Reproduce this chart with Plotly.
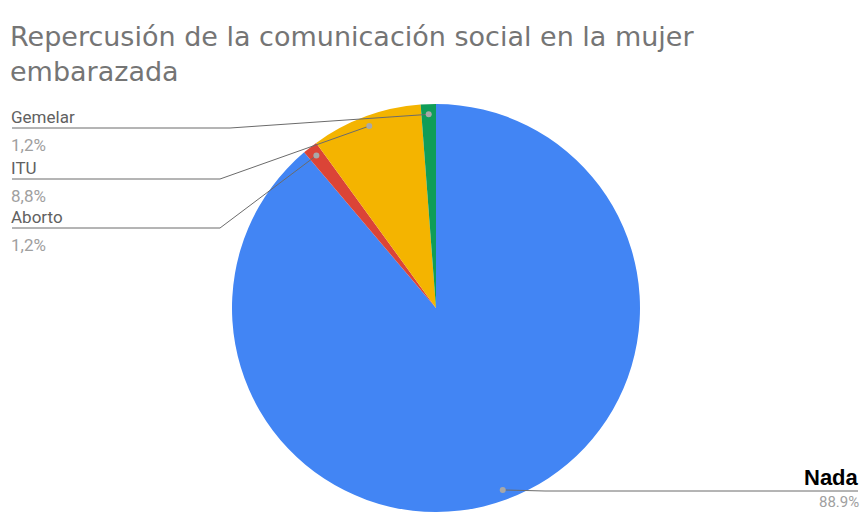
import math
import plotly.graph_objects as go

# ---- data ----
labels = ["Nada", "Aborto", "ITU", "Gemelar"]
values = [88.9, 1.2, 8.8, 1.2]
pct_text = ["88.9%", "1,2%", "8,8%", "1,2%"]
colors = ["#4285F4", "#DB4437", "#F4B400", "#0F9D58"]
title_text = "Repercusión de la comunicación social en la mujer<br>embarazada"

W, H = 861, 512

# pie placement in pixels (layout)
PX0, PX1, PY_TOP, PY_BOT = 232, 640, 104, 512

def px(x):
    return x / W

def py(y):
    return 1 - y / H

fig = go.Figure()
fig.add_trace(go.Pie(
    labels=labels, values=values, sort=False, direction="clockwise", rotation=0,
    marker=dict(colors=colors, line=dict(width=0)),
    textinfo="none", hoverinfo="label+percent", showlegend=False,
    domain=dict(x=[px(PX0), px(PX1)], y=[py(PY_BOT), py(PY_TOP)]),
))

# geometry derived from the pie domain and data
cx = (PX0 + PX1) / 2
cy = (PY_TOP + PY_BOT) / 2
r = min(PX1 - PX0, PY_BOT - PY_TOP) / 2
total = sum(values)
cum = 0
anchors = []
for v in values:
    mid = (cum + v / 2) / total * 2 * math.pi
    cum += v
    anchors.append((cx + 0.95 * r * math.sin(mid), cy - 0.95 * r * math.cos(mid)))

# label layout: (elbow x, line y, end x, side)
label_layout = {
    "Gemelar": (230, 128, 12, "left"),
    "ITU": (220, 179, 12, "left"),
    "Aborto": (220, 228, 12, "left"),
    "Nada": (545, 491, 858, "right"),
}

line_col = "#6b6b6b"
for lab, pct, (ax, ay) in zip(labels, pct_text, anchors):
    ex, ly, endx, side = label_layout[lab]
    fig.add_shape(type="path", xref="paper", yref="paper",
                  path=f"M {px(ax)} {py(ay)} L {px(ex)} {py(ly)} L {px(endx)} {py(ly)}",
                  line=dict(color=line_col, width=1))
    fig.add_shape(type="circle", xref="paper", yref="paper",
                  x0=px(ax - 3), x1=px(ax + 3), y0=py(ay + 3), y1=py(ay - 3),
                  fillcolor="#a8a8a8", line=dict(width=0))
    if side == "left":
        fig.add_annotation(x=px(endx - 3), y=py(ly - 11), xref="paper", yref="paper",
                           text=lab, showarrow=False, xanchor="left", yanchor="middle",
                           font=dict(family="Roboto", size=17, color="#616161"))
        fig.add_annotation(x=px(endx - 3), y=py(ly + 17), xref="paper", yref="paper",
                           text=pct, showarrow=False, xanchor="left", yanchor="middle",
                           font=dict(family="Roboto", size=17, color="#a0a0a0"))
    else:
        fig.add_annotation(x=px(endx + 3), y=py(ly - 14), xref="paper", yref="paper",
                           text=f"<b>{lab}</b>", showarrow=False, xanchor="right", yanchor="middle",
                           font=dict(family="Liberation Sans", size=22, color="#000000"))
        fig.add_annotation(x=px(endx + 3), y=py(ly + 11), xref="paper", yref="paper",
                           text=pct, showarrow=False, xanchor="right", yanchor="middle",
                           font=dict(family="Roboto", size=15, color="#a0a0a0"))

fig.add_annotation(x=px(8), y=py(19), xref="paper", yref="paper", text=title_text,
                   showarrow=False, xanchor="left", yanchor="top", align="left",
                   font=dict(family="DejaVu Sans", size=27, color="#757575"))

fig.update_layout(width=W, height=H, margin=dict(l=0, r=0, t=0, b=0),
                  paper_bgcolor="white", plot_bgcolor="white")

fig.write_html("out.html", config={"displayModeBar": False},
               post_script="document.body.style.margin='0';document.body.style.overflow='hidden';")
